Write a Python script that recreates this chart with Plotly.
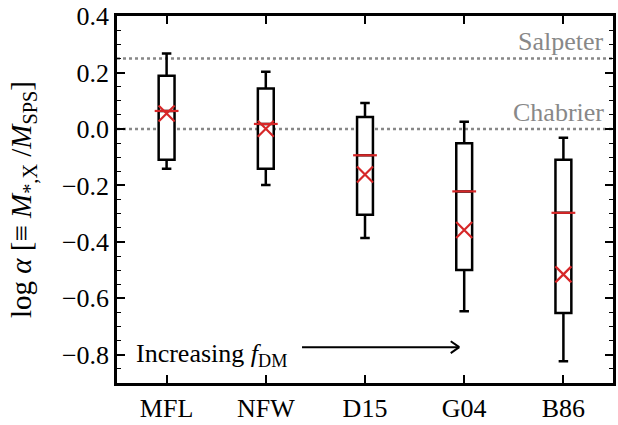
import plotly.graph_objects as go

# ---- data ----
models = ["MFL", "NFW", "D15", "G04", "B86"]
upper_whisker = [0.268, 0.203, 0.092, 0.026, -0.031]
q3_values = [0.189, 0.144, 0.043, -0.050, -0.109]
median_values = [0.064, 0.018, -0.093, -0.221, -0.297]
mean_values = [0.055, 0.001, -0.161, -0.358, -0.515]
q1_values = [-0.109, -0.141, -0.304, -0.500, -0.652]
lower_whisker = [-0.141, -0.198, -0.386, -0.646, -0.823]
imf_names = ["Salpeter", "Chabrier"]
imf_levels = [0.25, 0.0]
y_ticks = [-0.8, -0.6, -0.4, -0.2, 0.0, 0.2, 0.4]

xpos = list(range(len(models)))
FONT = "Liberation Serif"
RED = "#d62728"
FS = 26

fig = go.Figure()

fig.add_trace(go.Box(
    x=xpos, q1=q1_values, median=median_values, q3=q3_values,
    lowerfence=lower_whisker, upperfence=upper_whisker,
    width=0.16, whiskerwidth=0.6,
    line=dict(color="black", width=2.5), fillcolor="white",
    boxpoints=False, showlegend=False, hoverinfo="skip",
))

fig.add_trace(go.Scatter(
    x=xpos, y=median_values, mode="markers",
    marker=dict(symbol="line-ew", size=17, line=dict(color=RED, width=2.2)),
    showlegend=False, hoverinfo="skip",
))
fig.add_trace(go.Scatter(
    x=xpos, y=mean_values, mode="markers",
    marker=dict(symbol="x-thin", size=16, line=dict(color=RED, width=2.2)),
    showlegend=False, hoverinfo="skip",
))

for name, lev in zip(imf_names, imf_levels):
    fig.add_shape(type="line", xref="paper", x0=0, x1=1, yref="y", y0=lev, y1=lev,
                  line=dict(color="#888888", width=2.5, dash="dot"), layer="below")
    fig.add_annotation(xref="paper", x=0.985, y=lev, yref="y", text=name,
                       showarrow=False, xanchor="right", yanchor="bottom", yshift=0,
                       font=dict(family=FONT, size=FS, color="#888888"))

# arrow "Increasing f_DM"
fig.add_annotation(x=0.45, y=-0.80, text="Increasing <i>f</i><sub>DM</sub>",
                   showarrow=False, font=dict(family=FONT, size=FS, color="black"))
fig.add_annotation(x=2.95, y=-0.773, ax=1.35, ay=-0.773, axref="x", ayref="y",
                   text="", showarrow=True, arrowhead=0, arrowwidth=2, arrowcolor="black")
for dy in (-7, 7):
    fig.add_annotation(x=2.95, y=-0.773, ax=-10, ay=dy, text="", showarrow=True,
                       arrowhead=0, arrowwidth=2, arrowcolor="black")

fig.update_layout(
    width=618, height=425,
    margin=dict(l=117, r=2, t=10, b=36),
    plot_bgcolor="white", paper_bgcolor="white",
    font=dict(family=FONT, size=FS, color="black"),
    xaxis=dict(range=[-0.5, 4.5], tickmode="array", tickvals=xpos, ticktext=models,
               ticks="inside", ticklen=8, tickwidth=1.8, tickcolor="black",
               showline=True, linewidth=2.5, linecolor="black", mirror="ticks",
               showgrid=False, zeroline=False, tickfont=dict(size=FS)),
    yaxis=dict(range=[-0.9, 0.4005], tickmode="array", tickvals=y_ticks,
               ticktext=[("−" if v < 0 else "") + f"{abs(v):.1f}" for v in y_ticks],
               ticklabeloverflow="allow",
               ticks="inside", ticklen=8, tickwidth=1.8, tickcolor="black",
               minor=dict(dtick=0.05, ticks="inside", ticklen=4, tickwidth=1.3, tickcolor="black", showgrid=False),
               showline=True, linewidth=2.5, linecolor="black", mirror="ticks",
               showgrid=False, zeroline=False, tickfont=dict(size=FS),
               title=dict(text="log <i>α</i> [≡ <i>M</i><sub>*,X</sub> /<i>M</i><sub>SPS</sub>]",
                          font=dict(size=29), standoff=22)),
)

fig.write_html("out.html", config={"displayModeBar": False},
               post_script="document.body.style.margin='0';document.body.style.overflow='hidden';")
